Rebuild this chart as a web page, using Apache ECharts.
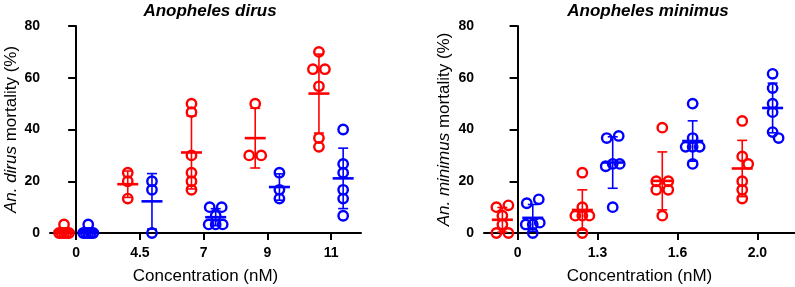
<!DOCTYPE html>
<html>
<head>
<meta charset="utf-8">
<script src="https://cdn.jsdelivr.net/npm/echarts@6/dist/echarts.min.js"></script>
<style>
html, body { margin: 0; padding: 0; background: #fff; }
#chart { width: 795px; height: 287px; }
</style>
</head>
<body>
<div id="chart"></div>
<script>
// An. dirus, mortality (%) per concentration group
const dirusCats = ['0', '4.5', '7', '9', '11'];
const dirusRed = [
    [0, 0, 0, 0, 0, 3.33],
    [23.3, 20, 13.3],
    [50, 46.7, 30, 23.3, 20, 16.7],
    [50, 30, 30],
    [70, 63.3, 63.3, 56.7, 36.7, 33.3]
];
const dirusBlue = [
    [0, 0, 0, 0, 0, 3.33],
    [20, 16.7, 0],
    [10, 10, 6.67, 3.33, 3.33, 3.33],
    [23.3, 16.7, 13.3],
    [40, 26.7, 23.3, 16.7, 13.3, 6.67]
];

// An. minimus
const minimusCats = ['0', '1.3', '1.6', '2.0'];
const minimusRed = [
    [10.7, 10, 6.7, 3.3, 0, 0],
    [23.3, 10, 6.7, 6.7, 6.7, 0],
    [40.7, 20, 20, 16.7, 16.7, 6.7],
    [43.3, 29.6, 26.7, 20, 16.7, 13.3]
];
const minimusBlue = [
    [13, 11.5, 4, 3.3, 3.3, 0],
    [37.5, 36.7, 26.7, 26.7, 25.8, 10],
    [50, 36.7, 33.3, 33.3, 33.3, 26.7],
    [61.5, 56, 50, 46.7, 39, 36.7]
];

const yTicks = [0, 20, 40, 60, 80];

const RED = '#ff0000';
const BLUE = '#0000ff';
const FONT = '"Liberation Sans", Arial, sans-serif';
const Y_PX = 207 / 80;   // px per % (for spreading overlapping dots)
const GROUP_OFF = 0.19;  // red left of tick, blue right

function spread(n) {
    if (n === 1) return [0];
    if (n === 2) return [6, -6];
    if (n === 3) return [7, 0, -7];
    const out = [];
    for (let i = 0; i < n; i++) out.push(5 - 10 * i / (n - 1));
    return out;
}

// rough graphpad-like scatter: ties side by side, near ones nudged
function swarm(vals) {
    const sorted = vals.slice().sort((a, b) => b - a);
    const clusters = [];
    sorted.forEach(v => {
        const last = clusters[clusters.length - 1];
        if (last && last[0] - v <= 1.5) last.push(v);
        else clusters.push([v]);
    });
    const placed = [];
    clusters.forEach(c => {
        if (c.length > 1) {
            const offs = spread(c.length);
            c.forEach((v, i) => placed.push([v, offs[i]]));
            return;
        }
        const v = c[0];
        let dx = [0, 6, -6, 12, -12].find(d =>
            placed.every(p => Math.hypot(p[1] - d, (p[0] - v) * Y_PX) >= 8));
        if (dx === undefined) dx = 0;
        placed.push([v, dx]);
    });
    return placed;
}

function pointData(groups, off) {
    const out = [];
    groups.forEach((vals, i) => {
        swarm(vals).forEach(p => out.push([i + off, p[0], p[1]]));
    });
    return out;
}

function statData(groups, off) {
    return groups.map((vals, i) => {
        const n = vals.length;
        const mean = vals.reduce((a, b) => a + b, 0) / n;
        const sd = Math.sqrt(vals.reduce((a, b) => a + (b - mean) * (b - mean), 0) / (n - 1));
        return [i + off, mean, sd];
    });
}

function pointSeries(idx, groups, off, color) {
    return {
        type: 'custom',
        xAxisIndex: idx,
        yAxisIndex: idx,
        encode: { x: 0, y: 1 },
        data: pointData(groups, off),
        z: 3,
        renderItem: function (params, api) {
            const p = api.coord([api.value(0), api.value(1)]);
            return {
                type: 'circle',
                shape: { cx: p[0] + api.value(2), cy: p[1], r: 4.7 },
                style: { fill: 'none', stroke: color, lineWidth: 2.4 }
            };
        }
    };
}

function barSeries(idx, groups, off, color) {
    return {
        type: 'custom',
        xAxisIndex: idx,
        yAxisIndex: idx,
        encode: { x: 0, y: 1 },
        data: statData(groups, off),
        z: 4,
        renderItem: function (params, api) {
            const x = api.value(0), m = api.value(1), sd = api.value(2);
            const c = api.coord([x, m]);
            const top = api.coord([x, m + sd]);
            const bot = api.coord([x, Math.max(0, m - sd)]);
            const st = { stroke: color, lineWidth: 1.6 };
            return {
                type: 'group',
                children: [
                    { type: 'line', shape: { x1: c[0], y1: top[1], x2: c[0], y2: bot[1] }, style: st },
                    { type: 'line', shape: { x1: c[0] - 5, y1: top[1], x2: c[0] + 5, y2: top[1] }, style: st },
                    { type: 'line', shape: { x1: c[0] - 5, y1: bot[1], x2: c[0] + 5, y2: bot[1] }, style: st },
                    { type: 'line', shape: { x1: c[0] - 10.5, y1: c[1], x2: c[0] + 10.5, y2: c[1] },
                      style: { stroke: color, lineWidth: 2.6 } }
                ]
            };
        }
    };
}

function xAxisFor(idx, cats, min, max) {
    const ticks = cats.map((c, i) => i);
    return {
        type: 'value',
        gridIndex: idx,
        min: min,
        max: max,
        name: 'Concentration (nM)',
        nameLocation: 'middle',
        nameGap: 35,
        nameTextStyle: { fontSize: 17, color: '#000', fontFamily: FONT },
        axisLine: { onZero: false, lineStyle: { color: '#000', width: 2 } },
        axisTick: { customValues: ticks, length: 7, lineStyle: { color: '#000', width: 2 } },
        axisLabel: {
            customValues: ticks,
            formatter: v => cats[v],
            margin: 13,
            fontSize: 14,
            fontWeight: 'bold',
            color: '#000',
            fontFamily: FONT
        },
        splitLine: { show: false }
    };
}

function yAxisFor(idx, italicPart, gap) {
    return {
        type: 'value',
        gridIndex: idx,
        min: yTicks[0],
        max: yTicks[yTicks.length - 1],
        interval: 20,
        name: '{i|' + italicPart + '} mortality (%)',
        nameLocation: 'middle',
        nameGap: gap,
        nameTextStyle: {
            fontSize: 17, color: '#000', fontFamily: FONT,
            rich: { i: { fontSize: 17, fontStyle: 'italic', color: '#000', fontFamily: FONT } }
        },
        axisLine: { show: true, lineStyle: { color: '#000', width: 2 } },
        axisTick: { show: true, length: 8, lineStyle: { color: '#000', width: 2 } },
        axisLabel: { margin: 10, fontSize: 14, fontWeight: 'bold', color: '#000', fontFamily: FONT },
        splitLine: { show: false }
    };
}

const chart = echarts.init(document.getElementById('chart'));
const titleStyle = { fontSize: 17, fontWeight: 'bold', fontStyle: 'italic', color: '#000', fontFamily: FONT };

chart.setOption({
    backgroundColor: '#fff',
    animation: false,
    title: [
        { text: 'Anopheles dirus', left: 205, top: -2, textAlign: 'center', textStyle: titleStyle },
        { text: 'Anopheles minimus', left: 643, top: -2, textAlign: 'center', textStyle: titleStyle }
    ],
    grid: [
        { left: 50, top: 26, width: 311, height: 207, outerBoundsMode: 'none', containLabel: false },
        { left: 484, top: 26, width: 311, height: 207, outerBoundsMode: 'none', containLabel: false }
    ],
    xAxis: [
        xAxisFor(0, dirusCats, -0.41, 4.47),
        xAxisFor(1, minimusCats, -0.42, 3.47)
    ],
    yAxis: [
        yAxisFor(0, 'An. dirus', 30),
        yAxisFor(1, 'An. minimus', 31)
    ],
    series: [
        pointSeries(0, dirusRed, -GROUP_OFF, RED),
        pointSeries(0, dirusBlue, GROUP_OFF, BLUE),
        barSeries(0, dirusRed, -GROUP_OFF, RED),
        barSeries(0, dirusBlue, GROUP_OFF, BLUE),
        pointSeries(1, minimusRed, -GROUP_OFF, RED),
        pointSeries(1, minimusBlue, GROUP_OFF, BLUE),
        barSeries(1, minimusRed, -GROUP_OFF, RED),
        barSeries(1, minimusBlue, GROUP_OFF, BLUE)
    ]
});
</script>
</body>
</html>
